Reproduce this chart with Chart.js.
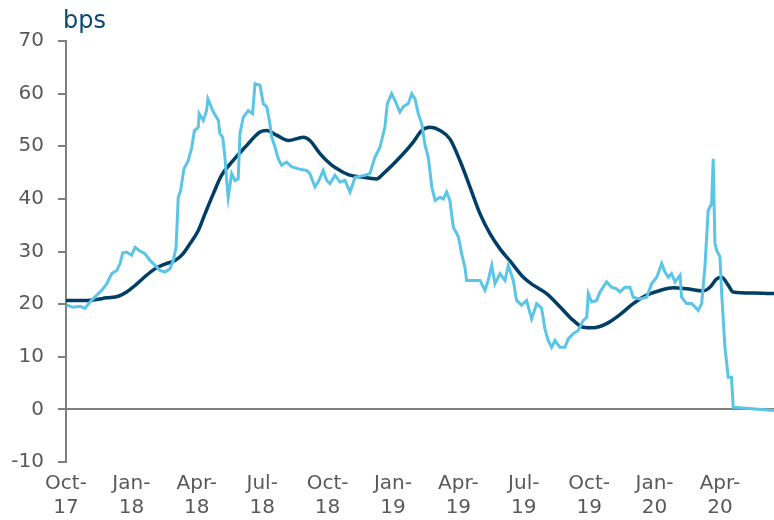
<!DOCTYPE html>
<html>
<head>
<meta charset="utf-8">
<script src="https://cdn.jsdelivr.net/npm/chart.js@4.4.1/dist/chart.umd.min.js"></script>
<style>
  body { margin: 0; background: #fff; }
  #wrap { width: 774px; height: 520px; }
</style>
</head>
<body>
<div id="wrap"><canvas id="chart" width="774" height="520"></canvas></div>
<script>
// x values are months since 1 Oct 2017
const tickMonths = [0, 3, 6, 9, 12, 15, 18, 21, 24, 27, 30];
const tickLabels = [
  ['Oct-', '17'], ['Jan-', '18'], ['Apr-', '18'], ['Jul-', '18'], ['Oct-', '18'], ['Jan-', '19'],
  ['Apr-', '19'], ['Jul-', '19'], ['Oct-', '19'], ['Jan-', '20'], ['Apr-', '20']
];

// daily series (light blue)
const spotMonths = [
  0.03, 0.32, 0.64, 0.87, 1.10, 1.41, 1.64, 1.87, 2.10, 2.33, 2.48, 2.60, 2.78, 3.01, 3.17, 3.39,
  3.62, 3.85, 4.08, 4.31, 4.54, 4.77, 4.92, 5.05, 5.15, 5.26, 5.41, 5.61, 5.77, 5.89, 6.07, 6.11,
  6.30, 6.45, 6.51, 6.76, 6.99, 7.06, 7.19, 7.29, 7.37, 7.44, 7.60, 7.75, 7.90, 7.98, 8.13, 8.36,
  8.56, 8.67, 8.90, 9.05, 9.21, 9.33, 9.44, 9.59, 9.74, 9.89, 10.12, 10.35, 10.66, 11.04, 11.19, 11.42,
  11.57, 11.80, 11.96, 12.11, 12.34, 12.57, 12.80, 13.03, 13.26, 13.72, 13.94, 14.17, 14.40, 14.63, 14.74, 14.94,
  15.09, 15.32, 15.47, 15.70, 15.86, 16.01, 16.16, 16.32, 16.47, 16.62, 16.78, 16.93, 17.16, 17.31, 17.46, 17.61,
  17.77, 18.00, 18.15, 18.30, 18.38, 18.68, 18.99, 19.22, 19.37, 19.53, 19.68, 19.91, 20.14, 20.29, 20.52, 20.67,
  20.90, 21.13, 21.36, 21.59, 21.82, 21.97, 22.12, 22.28, 22.43, 22.66, 22.89, 23.04, 23.27, 23.50, 23.73, 23.89,
  23.96, 24.11, 24.34, 24.50, 24.80, 25.03, 25.26, 25.41, 25.64, 25.87, 26.02, 26.33, 26.64, 26.87, 27.10, 27.33,
  27.48, 27.63, 27.78, 27.94, 28.17, 28.24, 28.47, 28.70, 28.85, 29.00, 29.16, 29.31, 29.46, 29.62, 29.69, 29.77,
  29.85, 30.00, 30.08, 30.23, 30.38, 30.53, 30.61, 32.48
];
const spotValues = [
  19.8, 19.4, 19.6, 19.2, 20.4, 21.7, 22.6, 23.9, 25.8, 26.4, 27.7, 29.7, 29.9, 29.3, 30.8, 30.1,
  29.6, 28.3, 27.4, 26.4, 26.1, 26.7, 28.3, 30.8, 40.3, 41.6, 45.7, 47.3, 49.8, 53.0, 53.6, 56.2,
  54.9, 56.8, 59.0, 56.5, 54.9, 52.4, 51.7, 48.0, 43.5, 40.3, 44.8, 43.5, 43.8, 52.4, 55.5, 56.8,
  56.2, 61.9, 61.6, 58.1, 57.5, 54.9, 51.7, 49.8, 47.6, 46.4, 47.0, 46.1, 45.7, 45.4, 44.8, 42.3,
  43.2, 45.4, 43.5, 42.9, 44.5, 43.2, 43.5, 41.3, 44.1, 44.5, 44.8, 47.9, 49.8, 53.6, 58.1, 60.0,
  58.7, 56.5, 57.5, 58.1, 60.0, 59.0, 56.2, 54.3, 50.2, 47.9, 42.3, 39.7, 40.3, 40.0, 41.3, 39.7,
  34.6, 32.8, 29.6, 27.0, 24.5, 24.5, 24.5, 22.6, 24.5, 27.4, 23.9, 25.8, 24.5, 27.4, 24.5, 20.7,
  19.8, 20.7, 17.2, 20.1, 19.2, 15.3, 13.1, 11.8, 13.1, 11.8, 11.8, 13.4, 14.4, 15.0, 16.9, 17.5,
  22.0, 20.4, 20.7, 22.3, 24.2, 23.2, 22.9, 22.3, 23.2, 23.2, 21.3, 21.0, 21.3, 23.9, 25.1, 27.7,
  26.1, 25.1, 25.8, 24.2, 25.5, 21.3, 20.1, 20.1, 19.5, 18.8, 20.1, 27.0, 37.8, 39.1, 47.6, 31.5,
  30.2, 29.0, 22.0, 11.8, 6.1, 6.1, 0.4, -0.2
];

// smoothed series (navy)
const avgMonths = [
  0, 0.64, 1.25, 1.87, 2.40, 2.78, 3.24, 3.70, 4.08, 4.54, 5.00, 5.31, 5.69, 6.07, 6.38, 6.76,
  7.14, 7.67, 8.21, 8.90, 9.21, 9.66, 10.20, 10.89, 11.19, 11.65, 12.19, 12.57, 13.03, 13.49, 14.25, 14.56,
  15.32, 15.93, 16.32, 16.70, 17.16, 17.61, 18.07, 18.53, 18.99, 19.45, 19.91, 20.37, 20.98, 21.44, 22.05, 22.66,
  23.27, 23.73, 24.19, 24.80, 25.41, 26.02, 26.64, 27.25, 27.86, 28.47, 29.23, 29.54, 29.85, 30.08, 30.38, 30.61,
  31.53, 32.48
];
const avgValues = [
  20.7, 20.7, 20.8, 21.2, 21.5, 22.3, 23.8, 25.5, 26.7, 27.6, 28.3, 29.3, 31.5, 34.0, 37.2, 41.0,
  44.5, 47.3, 49.8, 52.7, 53.0, 52.1, 51.1, 51.7, 51.1, 48.6, 46.4, 45.4, 44.5, 44.2, 43.8, 44.8,
  47.9, 50.8, 53.0, 53.6, 53.0, 51.4, 47.3, 42.3, 37.2, 33.4, 30.5, 28.2, 25.1, 23.6, 22.0, 19.5,
  16.9, 15.6, 15.5, 16.3, 18.0, 20.1, 21.7, 22.6, 23.1, 22.9, 22.5, 23.2, 24.8, 25.1, 23.6, 22.3,
  22.1, 22.0
];

const axisGrey = '#7f7f7f';
const textGrey = '#595959';

const unitLabel = {
  id: 'unitLabel',
  afterDraw(chart) {
    const c = chart.ctx;
    c.save();
    c.font = '24px "DejaVu Sans"';
    c.fillStyle = '#0b4a70';
    c.textBaseline = 'alphabetic';
    c.fillText('bps', 63, 28);
    c.restore();
  }
};

new Chart(document.getElementById('chart').getContext('2d'), {
  type: 'line',
  data: {
    datasets: [{
      label: 'Daily',
      data: spotMonths.map((m, i) => ({ x: m, y: spotValues[i] })),
      borderColor: '#5bc5e8',
      borderWidth: 3,
      pointRadius: 0,
      tension: 0
    }, {
      label: 'Average',
      data: avgMonths.map((m, i) => ({ x: m, y: avgValues[i] })),
      borderColor: '#003e65',
      borderWidth: 3.5,
      pointRadius: 0,
      cubicInterpolationMode: 'monotone'
    }]
  },
  options: {
    responsive: false,
    animation: false,
    layout: { padding: { top: 41, right: 0, left: 0, bottom: 0 } },
    plugins: { legend: { display: false }, tooltip: { enabled: false } },
    scales: {
      x: {
        type: 'linear',
        min: 0,
        max: 32.48,
        afterBuildTicks: scale => { scale.ticks = tickMonths.map(v => ({ value: v })); },
        afterFit: scale => { scale.height = 58; },
        grid: { display: false, drawTicks: false },
        border: { display: false },
        ticks: {
          maxRotation: 0,
          autoSkip: false,
          padding: 10,
          color: textGrey,
          font: { family: 'DejaVu Sans', size: 20 },
          callback: (v, i) => tickLabels[i]
        }
      },
      y: {
        min: -10,
        max: 70,
        afterFit: scale => { scale.width = 66; },
        grid: {
          color: ctx => (ctx.tick && ctx.tick.value === 0) ? axisGrey : 'rgba(0,0,0,0)',
          lineWidth: 2,
          tickColor: axisGrey,
          tickLength: 8
        },
        border: { display: true, color: axisGrey, width: 2 },
        ticks: {
          stepSize: 10,
          padding: 14,
          color: textGrey,
          font: { family: 'DejaVu Sans', size: 20 }
        }
      }
    }
  },
  plugins: [unitLabel]
});
</script>
</body>
</html>
